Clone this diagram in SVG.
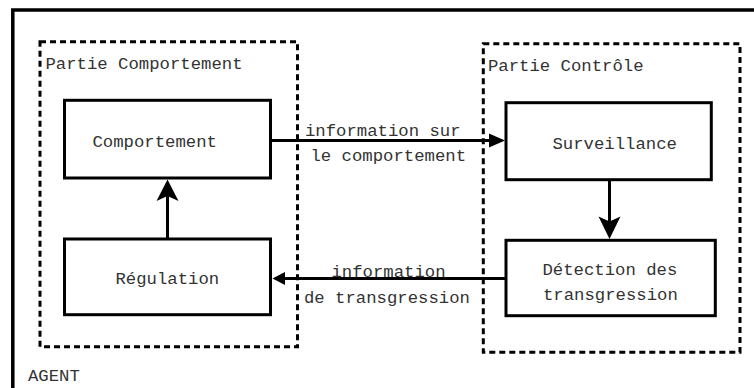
<svg xmlns="http://www.w3.org/2000/svg" width="754" height="388" viewBox="0 0 754 388">
  <defs>
    <style>
      .frame { fill: none; stroke: #000; stroke-width: 3.5; }
      .part { fill: none; stroke: #000; stroke-width: 3; stroke-dasharray: 6 4; }
      .box { fill: #fff; stroke: #000; stroke-width: 3; }
      .link { fill: none; stroke: #000; stroke-width: 3; }
      .head { fill: #000; stroke: none; }
      text { font-family: "Liberation Mono", "Courier New", monospace; font-size: 17.3px; fill: #333; }
    </style>
  </defs>

  <rect width="754" height="388" fill="#fff"/>

  <!-- agent frame (open to the right and bottom) -->
  <g id="agent">
    <rect class="frame" x="12.8" y="10" width="760" height="400"/>
    <text x="28" y="381">AGENT</text>
  </g>

  <!-- behaviour part -->
  <g id="partie-comportement">
    <rect class="part" x="40" y="41.7" width="257.5" height="305"/>
    <text x="45.5" y="69">Partie Comportement</text>
  </g>

  <!-- control part -->
  <g id="partie-controle">
    <rect class="part" x="483.3" y="43.7" width="256.7" height="308.6"/>
    <text x="488" y="71">Partie Contrôle</text>
  </g>

  <g id="comportement">
    <rect class="box" x="64.5" y="100.3" width="206" height="77.7"/>
    <text x="92.5" y="146.5">Comportement</text>
  </g>

  <g id="regulation">
    <rect class="box" x="64.5" y="239" width="206" height="75.7"/>
    <text x="115.5" y="283.5">Régulation</text>
  </g>

  <g id="surveillance">
    <rect class="box" x="506" y="102.7" width="205.3" height="77"/>
    <text x="552.5" y="148.5">Surveillance</text>
  </g>

  <g id="detection">
    <rect class="box" x="506" y="240.3" width="209.3" height="75.4"/>
    <text x="542.5" y="275">Détection des</text>
    <text x="543" y="299.5">transgression</text>
  </g>

  <!-- connectors -->
  <g id="connectors">
    <!-- Comportement -> Surveillance -->
    <line class="link" x1="270.5" y1="140.5" x2="491" y2="140.5"/>
    <polygon class="head" points="505,140.5 489,133.5 489,147.5"/>
    <text x="305" y="135.5">information sur</text>
    <text x="310.5" y="160.5">le comportement</text>

    <!-- Surveillance -> Détection -->
    <line class="link" x1="609.5" y1="179.7" x2="609.5" y2="222"/>
    <path class="head" d="M609.5,239 L598.5,216.5 L609.5,221.5 L620.5,216.5 Z"/>

    <!-- Détection -> Régulation -->
    <text x="331.5" y="277">information</text>
    <text x="304" y="302.5">de transgression</text>
    <line class="link" x1="506" y1="278.5" x2="282" y2="278.5"/>
    <polygon class="head" points="272.5,278.5 285,272 285,285"/>

    <!-- Régulation -> Comportement -->
    <line class="link" x1="167.5" y1="239" x2="167.5" y2="196"/>
    <path class="head" d="M167.5,179.5 L156.5,201 L167.5,196 L178.5,201 Z"/>
  </g>
</svg>
